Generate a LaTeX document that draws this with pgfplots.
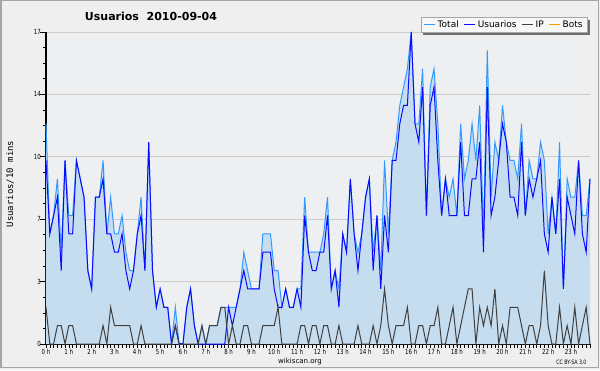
\documentclass[border=0pt]{standalone}
\usepackage{pgfplots}
\pgfplotsset{compat=1.18}
\usepackage{pgfplotstable}
\usepackage{fontspec}
\setmainfont{DejaVu Sans}
\setmonofont{DejaVu Sans Mono}
\newfontfamily\tickfont[FakeStretch=0.78]{DejaVu Sans}

\definecolor{outerbg}{RGB}{239,239,239}
\definecolor{plotbg}{RGB}{237,239,241}
\definecolor{fillblue}{RGB}{198,221,240}
\definecolor{totalc}{RGB}{51,153,255}
\definecolor{userc}{RGB}{10,10,255}
\definecolor{ipc}{RGB}{64,64,64}
\definecolor{botc}{RGB}{255,153,0}
\definecolor{gridc}{RGB}{204,204,204}
\definecolor{framec}{RGB}{165,165,165}
\definecolor{shadowc}{RGB}{112,112,112}

\pgfplotstableread{
i U T P
0 10 12 2
1 6 6 0
2 7 7 0
3 8 9 1
4 4 5 1
5 10 10 0
6 6 7 1
7 6 7 1
8 10 10 0
9 9 9 0
10 8 8 0
11 4 4 0
12 3 3 0
13 8 8 0
14 8 8 0
15 9 10 1
16 6 6 0
17 6 8 2
18 5 6 1
19 5 6 1
20 6 7 1
21 4 5 1
22 3 4 1
23 4 4 0
24 6 6 0
25 7 8 1
26 4 4 0
27 11 11 0
28 4 4 0
29 2 2 0
30 3 3 0
31 2 2 0
32 2 2 0
33 0 0 0
34 1 2 1
35 0 0 0
36 0 0 0
37 2 2 0
38 3 3 0
39 1 1 0
40 0 0 0
41 0 1 1
42 0 0 0
43 0 1 1
44 0 1 1
45 0 1 1
46 0 2 2
47 0 2 2
48 2 2 0
49 1 2 1
50 2 2 0
51 3 3 0
52 4 5 1
53 3 4 1
54 3 3 0
55 3 3 0
56 3 3 0
57 5 6 1
58 5 6 1
59 5 6 1
60 3 4 1
61 2 4 2
62 2 2 0
63 3 3 0
64 2 2 0
65 2 2 0
66 3 3 0
67 2 3 1
68 7 8 1
69 5 5 0
70 4 5 1
71 4 5 1
72 5 5 0
73 5 6 1
74 7 8 1
75 3 3 0
76 4 4 0
77 2 3 1
78 6 6 0
79 5 5 0
80 9 9 0
81 6 6 0
82 4 5 1
83 6 6 0
84 8 8 0
85 9 9 0
86 4 5 1
87 7 7 0
88 3 4 1
89 7 10 3
90 5 6 1
91 10 10 0
92 10 11 1
93 12 13 1
94 13 14 1
95 13 15 2
96 17 17 0
97 12 12 0
98 11 12 1
99 14 15 1
100 7 7 0
101 13 14 1
102 14 15 1
103 10 12 2
104 7 7 0
105 9 9 0
106 7 8 1
107 7 9 2
108 7 7 0
109 11 12 1
110 7 9 2
111 7 10 3
112 9 12 3
113 9 10 0
114 11 13 2
115 5 6 1
116 14 16 2
117 7 8 1
118 8 11 3
119 10 10 0
120 12 13 1
121 11 11 0
122 8 10 2
123 8 10 2
124 7 9 2
125 11 12 1
126 7 7 0
127 9 10 1
128 8 9 1
129 9 9 0
130 10 11 1
131 6 10 4
132 5 6 1
133 8 8 0
134 6 6 0
135 9 11 2
136 3 3 0
137 8 9 1
138 7 8 0
139 6 8 2
140 10 10 0
141 6 7 1
142 5 7 2
143 9 9 0
}\data

\begin{document}
\begin{tikzpicture}
\fill[outerbg] (0pt,0pt) rectangle (600pt,370pt);
\draw[framec, line width=1.5pt] (0.75pt,2.5pt) rectangle (598.25pt,369.25pt);
\node[font=\bfseries\fontsize{11}{13}\selectfont] at (151pt,354pt) {Usuarios\ \ 2010-09-04};
\node[font=\ttfamily\fontsize{9}{10}\selectfont, rotate=90] at (10pt,186pt) {Usuarios/10 mins};
\node[font=\fontsize{7}{8}\selectfont] at (300pt,8pt) {wikiscan.org};
\node[font=\tickfont\fontsize{6}{7}\selectfont, anchor=east] at (590pt,8pt) {CC BY-SA 3.0};
\begin{axis}[
  at={(46pt,26pt)}, anchor=south west,
  scale only axis, width=544pt, height=312pt,
  xmin=0, xmax=143, ymin=0, ymax=17,
  clip=false,
  axis background/.style={fill=plotbg},
  axis x line*=bottom, axis y line*=left,
  axis line style={black, line width=1.4pt, -},
  tick align=outside,
  tick style={black, line width=0.6pt},
  major tick length=4pt, minor tick length=4pt,
  y tick style={/pgfplots/major tick length=6pt, /pgfplots/minor tick length=3pt},
  xtick={0,6,...,138},
  minor xtick={0,1,...,143},
  xticklabels={0 h,1 h,2 h,3 h,4 h,5 h,6 h,7 h,8 h,9 h,10 h,11 h,12 h,13 h,14 h,15 h,16 h,17 h,18 h,19 h,20 h,21 h,22 h,23 h},
  ytick={0,3.4,6.8,10.2,13.6,17},
  yticklabels={0,3,7,10,14,17},
  minor y tick num=3,
  ymajorgrids,
  major grid style={gridc, line width=0.8pt},
  tick label style={font=\tickfont\fontsize{7}{8}\selectfont},
  x tick label style={inner sep=1pt},
  y tick label style={inner sep=1pt},
  legend columns=4,
  legend style={name=leg, at={(axis description cs:0.996,1.048)}, anchor=north east,
    draw=gray!70, fill=white!97!black, font=\fontsize{9}{10}\selectfont,
    inner xsep=3pt, inner ysep=1.5pt, row sep=0pt,
    /tikz/every even column/.append style={column sep=3pt}},
  legend image code/.code={\draw[#1, line width=1pt] (0pt,0pt) -- (11pt,0pt);},
]
\addplot[draw=none, fill=fillblue, forget plot] table[x=i,y=T]{\data} \closedcycle;
\addplot[totalc, line width=1pt] table[x=i,y=T]{\data};
\addlegendentry{Total}
\addplot[userc, line width=1pt] table[x=i,y=U]{\data};
\addlegendentry{Usuarios}
\addplot[ipc, line width=1pt] table[x=i,y=P]{\data};
\addlegendentry{IP}
\addlegendimage{botc, line width=1pt}
\addlegendentry{Bots}
\end{axis}
\draw[shadowc, line width=2.6pt]
  ([xshift=1.3pt,yshift=-2.6pt]leg.north east) -- ([xshift=1.3pt,yshift=-1.3pt]leg.south east)
  -- ([xshift=2.6pt,yshift=-1.3pt]leg.south west);
\end{tikzpicture}
\end{document}
